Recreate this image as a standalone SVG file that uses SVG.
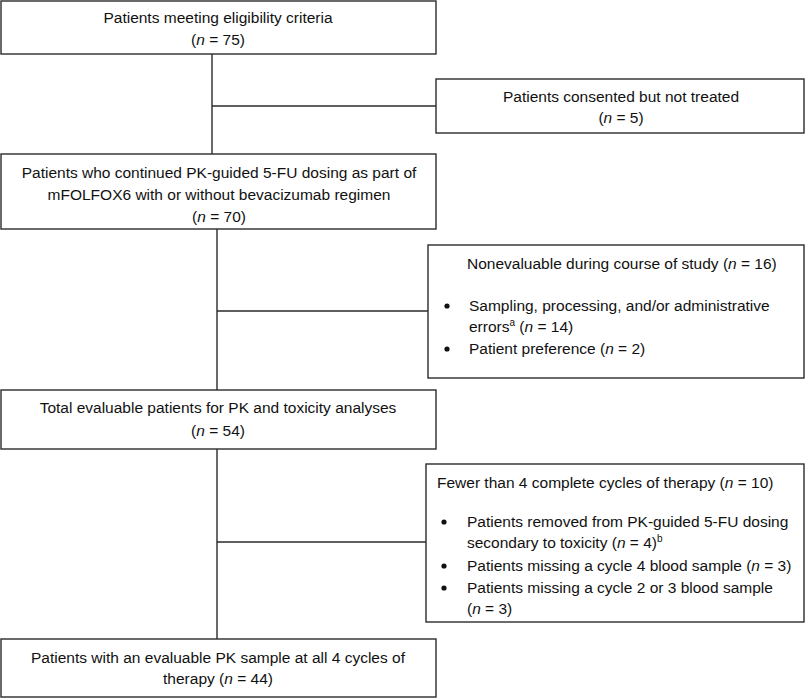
<svg xmlns="http://www.w3.org/2000/svg" width="810" height="698" viewBox="0 0 810 698">
<style>
.box{fill:#fff;stroke:#2b2b2b;stroke-width:1.4}
.ln{fill:none;stroke:#2b2b2b;stroke-width:1.4}
text{font-family:"Liberation Sans",Arial,sans-serif;font-size:15.5px;fill:#111}
.c{text-anchor:middle}
.i{font-style:italic}
.sup{font-size:10px}
</style>
<rect width="810" height="698" fill="#fff"/>
<g id="connectors">
<path class="ln" d="M212,54V154M212,106H436"/>
<path class="ln" d="M217,229V390M217,311H428"/>
<path class="ln" d="M217,449V639M217,542H426"/>
</g>
<g id="n1">
<rect class="box" x="1" y="1" width="435" height="53"/>
<text class="c" x="218" y="23">Patients meeting eligibility criteria</text>
<text class="c" x="218" y="45">(<tspan class="i">n</tspan> = 75)</text>
</g>
<g id="n2">
<rect class="box" x="436" y="79" width="368" height="54"/>
<text class="c" x="621" y="102">Patients consented but not treated</text>
<text class="c" x="621" y="123">(<tspan class="i">n</tspan> = 5)</text>
</g>
<g id="n3">
<rect class="box" x="1" y="154" width="435" height="75"/>
<text class="c" x="219" y="178">Patients who continued PK-guided 5-FU dosing as part of</text>
<text class="c" x="219" y="200">mFOLFOX6 with or without bevacizumab regimen</text>
<text class="c" x="219" y="222">(<tspan class="i">n</tspan> = 70)</text>
</g>
<g id="n4">
<rect class="box" x="428" y="245" width="376" height="133"/>
<text x="467" y="269">Nonevaluable during course of study (<tspan class="i">n</tspan> = 16)</text>
<circle cx="447" cy="306" r="2.6" fill="#111"/>
<text x="469" y="311">Sampling, processing, and/or administrative</text>
<text x="469" y="332">errors<tspan class="sup" dy="-6">a</tspan><tspan dy="6"> (</tspan><tspan class="i">n</tspan> = 14)</text>
<circle cx="447" cy="349" r="2.6" fill="#111"/>
<text x="469" y="354">Patient preference (<tspan class="i">n</tspan> = 2)</text>
</g>
<g id="n5">
<rect class="box" x="1" y="390" width="435" height="59"/>
<text class="c" x="218" y="413">Total evaluable patients for PK and toxicity analyses</text>
<text class="c" x="218" y="436">(<tspan class="i">n</tspan> = 54)</text>
</g>
<g id="n6">
<rect class="box" x="426" y="464" width="378" height="158"/>
<text x="437" y="488">Fewer than 4 complete cycles of therapy (<tspan class="i">n</tspan> = 10)</text>
<circle cx="444" cy="522" r="2.6" fill="#111"/>
<text x="467" y="527">Patients removed from PK-guided 5-FU dosing</text>
<text x="467" y="548">secondary to toxicity (<tspan class="i">n</tspan> = 4)<tspan class="sup" dy="-6">b</tspan></text>
<circle cx="444" cy="566" r="2.6" fill="#111"/>
<text x="467" y="571">Patients missing a cycle 4 blood sample (<tspan class="i">n</tspan> = 3)</text>
<circle cx="444" cy="588" r="2.6" fill="#111"/>
<text x="467" y="593">Patients missing a cycle 2 or 3 blood sample</text>
<text x="467" y="614">(<tspan class="i">n</tspan> = 3)</text>
</g>
<g id="n7">
<rect class="box" x="1" y="639" width="435" height="58"/>
<text class="c" x="218" y="663">Patients with an evaluable PK sample at all 4 cycles of</text>
<text class="c" x="218" y="684">therapy (<tspan class="i">n</tspan> = 44)</text>
</g>
</svg>
